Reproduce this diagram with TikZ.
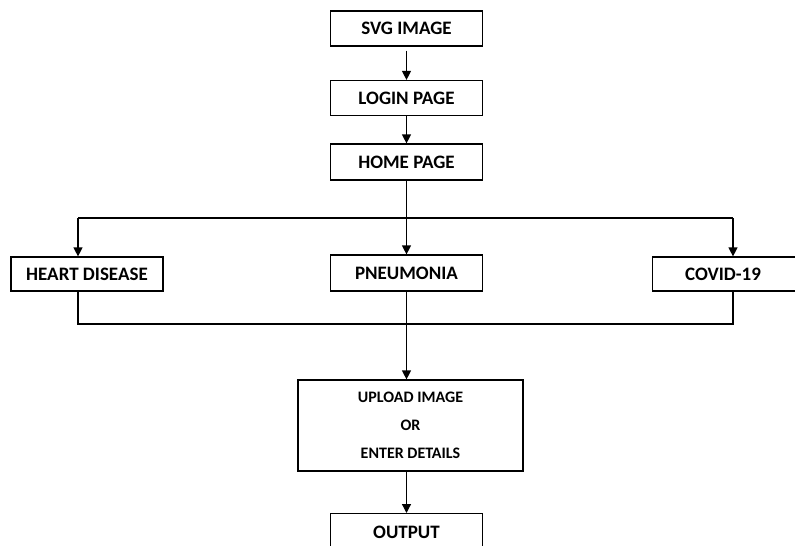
\documentclass[tikz,border=0pt]{standalone}
\usepackage{fontspec}
\setmainfont{Carlito}
\usetikzlibrary{arrows.meta}
\tikzset{
  box/.style={draw, line width=1.2pt, fill=white, inner sep=0pt, font=\bfseries\fontsize{19}{21}\selectfont},
  conn/.style={line width=1.2pt},
  arr/.style={conn, -{Triangle[length=9pt,width=9pt]}},
}
\begin{document}
\begin{tikzpicture}[x=1pt,y=-1pt]
\useasboundingbox (0,0) rectangle (795,546);
\clip (0,0) rectangle (795,546);
\node[box, minimum width=152pt, minimum height=35pt] (svg) at (406.5,28.5) {SVG IMAGE};
\node[box, minimum width=152pt, minimum height=35pt] (login) at (406.5,98) {LOGIN PAGE};
\node[box, minimum width=152pt, minimum height=36pt] (home) at (406.5,162) {HOME PAGE};
\node[box, minimum width=152pt, minimum height=34pt] (heart) at (87,274) {HEART DISEASE};
\node[box, minimum width=152pt, minimum height=36pt] (pneu) at (406.5,273) {PNEUMONIA};
\node[box, minimum width=148pt, minimum height=34pt, anchor=west] (covid) at (652,274) {};
\node[font=\bfseries\fontsize{19}{21}\selectfont] (covidtext) at (723,274) {COVID-19};
\node[box, minimum width=225pt, minimum height=91pt, font=\bfseries\fontsize{16}{28}\selectfont, align=center] (upload) at (410.5,425.5) {UPLOAD IMAGE\\OR\\ENTER DETAILS};
\node[box, minimum width=152pt, minimum height=46pt, anchor=north] (output) at (406.5,513) {};
\node[font=\bfseries\fontsize{19}{21}\selectfont] (outtext) at (406.5,532) {OUTPUT};
\coordinate (bl) at (78,218);
\coordinate (br) at (733,218);
\coordinate (jl) at (78,324);
\coordinate (jr) at (733,324);
\draw[arr, shorten <=4pt] (svg.south) -- (login.north);
\draw[arr] (login.south) -- (home.north);
\draw[conn] (home.south) -- (home.south |- bl);
\draw[conn] (bl) -- (br);
\draw[arr] (bl) -- (bl |- heart.north);
\draw[arr] (home.south |- bl) -- (pneu.north);
\draw[arr] (br) -- (br |- covid.north);
\draw[conn] (jl |- heart.south) -- (jl) -- (jr) -- (jr |- covid.south);
\draw[arr] (pneu.south) -- (pneu.south |- upload.north);
\draw[arr] (output.north |- upload.south) -- (output.north);
\end{tikzpicture}
\end{document}
